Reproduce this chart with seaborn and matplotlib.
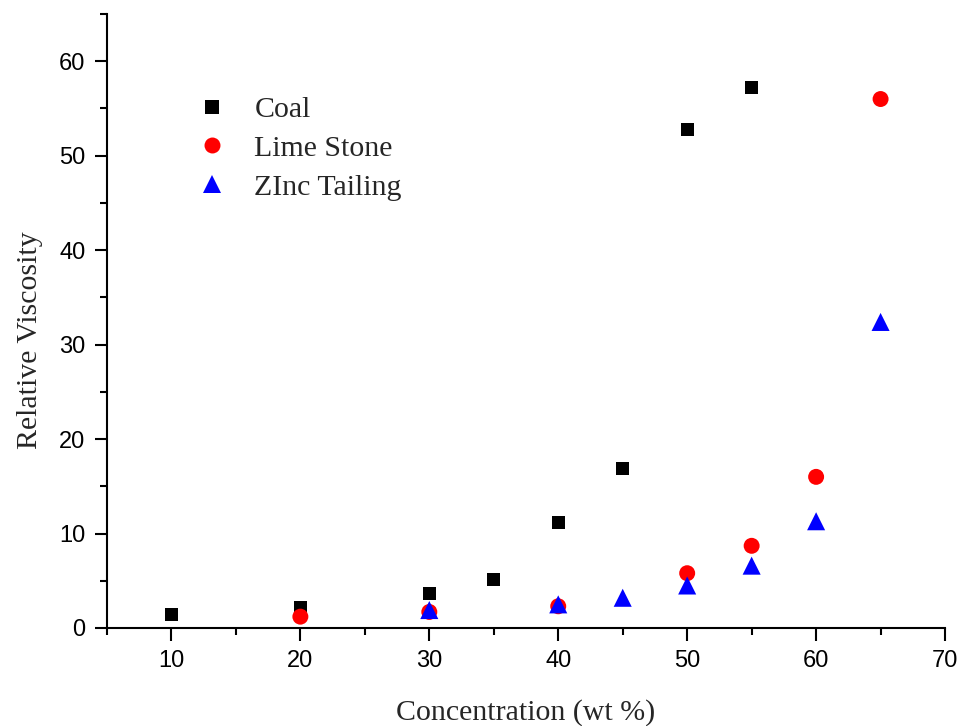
import pandas as pd
import matplotlib.pyplot as plt
import seaborn as sns

# values
coal_x = [10, 20, 30, 35, 40, 45, 50, 55]
coal_y = [1.4, 2.2, 3.6, 5.1, 11.2, 16.9, 52.8, 57.2]
lime_x = [20, 30, 40, 50, 55, 60, 65]
lime_y = [1.2, 1.7, 2.3, 5.8, 8.7, 16.0, 56.0]
zinc_x = [30, 40, 45, 50, 55, 60, 65]
zinc_y = [1.9, 2.5, 3.2, 4.5, 6.6, 11.3, 32.4]
series_names = ["Coal", "Lime Stone", "ZInc Tailing"]

df = pd.concat([
    pd.DataFrame({"conc": coal_x, "visc": coal_y, "sample": series_names[0]}),
    pd.DataFrame({"conc": lime_x, "visc": lime_y, "sample": series_names[1]}),
    pd.DataFrame({"conc": zinc_x, "visc": zinc_y, "sample": series_names[2]}),
])

sns.set_style("ticks")
plt.rcParams['font.family'] = ['Liberation Sans', 'DejaVu Sans']

fig = plt.figure(figsize=(9.61, 7.26), dpi=100)
ax = fig.add_axes([0.1113, 0.135, 0.8721, 0.8457])

palette = {"Coal": "black", "Lime Stone": "red", "ZInc Tailing": "blue"}
markers = {"Coal": "s", "Lime Stone": "o", "ZInc Tailing": "^"}
sizes = {"Coal": 88, "Lime Stone": 132, "ZInc Tailing": 169}

sns.scatterplot(data=df, x="conc", y="visc", hue="sample", style="sample",
                size="sample", palette=palette, markers=markers, sizes=sizes,
                linewidth=0, ax=ax)

ax.set_xlim(5, 70)
ax.set_ylim(0, 65)
ax.set_xticks(range(10, 71, 10))
ax.set_xticks(range(5, 71, 10), minor=True)
ax.set_yticks(range(0, 61, 10))
ax.set_yticks(range(5, 66, 10), minor=True)
sns.despine(ax=ax)
for s in ["left", "bottom"]:
    ax.spines[s].set_linewidth(1.5)
    ax.spines[s].set_color("black")
ax.tick_params(which="major", direction="out", length=9, width=1.5, labelsize=17,
               pad=6.5, color="black", labelcolor="black")
ax.tick_params(axis="x", which="major", pad=7)
ax.tick_params(which="minor", direction="out", length=5, width=1.5, color="black")

serif = ['Liberation Serif', 'DejaVu Serif']
ax.set_xlabel("Concentration (wt %)", fontsize=21.5, family=serif, labelpad=19)
ax.set_ylabel("Relative Viscosity", fontsize=21.5, family=serif)
ax.yaxis.set_label_coords(-0.0764, 0.469)

ax.legend(title=None, frameon=False, loc="upper left", bbox_to_anchor=(0.076, 0.91),
          prop={"family": serif, "size": 21.5}, handletextpad=0.9, labelspacing=0.4,
          handlelength=1.0)

plt.savefig("out.png", dpi=100)
plt.close()
